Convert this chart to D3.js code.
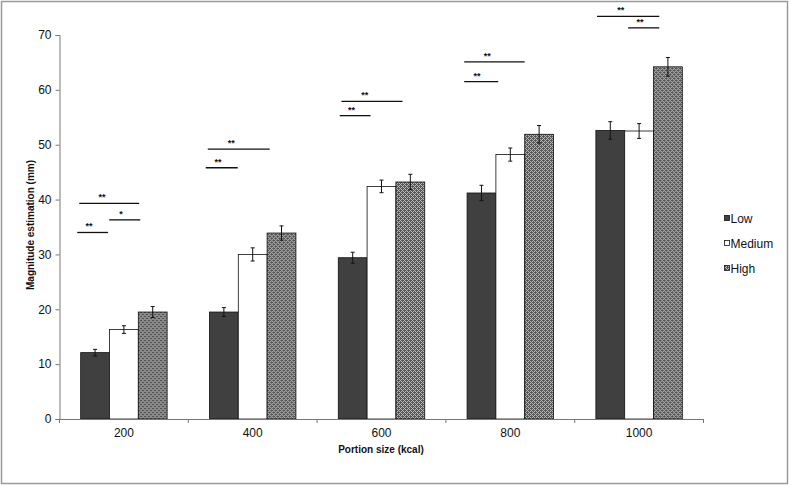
<!DOCTYPE html>
<html>
<head>
<meta charset="utf-8">
<script src="https://cdn.jsdelivr.net/npm/d3@7"></script>
<style>
  body { margin: 0; background: #fff; }
  svg { display: block; font-family: Arial, "Liberation Sans", sans-serif; }
</style>
</head>
<body>
<svg width="789" height="486"></svg>
<script>
// data
var categories = ["200", "400", "600", "800", "1000"];
var seriesNames = ["Low", "Medium", "High"];
var lowValues = [12.1, 19.5, 29.4, 41.2, 52.6];
var mediumValues = [16.3, 30.0, 42.4, 48.2, 52.5];
var highValues = [19.5, 33.9, 43.2, 51.9, 64.2];
var lowErr = [0.6, 0.8, 1.0, 1.4, 1.6];
var mediumErr = [0.7, 1.2, 1.15, 1.2, 1.35];
var highErr = [1.0, 1.3, 1.4, 1.6, 1.7];
var yTicks = [0, 10, 20, 30, 40, 50, 60, 70];
// significance lines: category, start / end (in bar widths from group start), level, label
var sigCat = ["200", "200", "200", "400", "400", "600", "600", "800", "800", "1000", "1000"];
var sigFrom = [-0.12, 0.99, -0.05, -0.13, -0.06, 0.05, 0.11, -0.1, -0.1, 0.04, 1.12];
var sigTo = [0.95, 2.07, 2.03, 0.98, 2.09, 1.12, 2.23, 1.08, 2.0, 2.2, 2.2];
var sigLevel = [34.0, 36.3, 39.3, 45.8, 49.2, 55.3, 57.9, 61.5, 65.1, 73.4, 71.3];
var sigLabel = ["**", "*", "**", "**", "**", "**", "**", "**", "**", "**", "**"];

var values = [lowValues, mediumValues, highValues];
var errors = [lowErr, mediumErr, highErr];

var svg = d3.select("svg");

// fine dither pattern for "High"
var defs = svg.append("defs");
var pat = defs.append("pattern")
  .attr("id", "hatch")
  .attr("patternUnits", "userSpaceOnUse")
  .attr("width", 4).attr("height", 4);
pat.append("rect").attr("width", 4).attr("height", 4).attr("fill", "#c4c4c4");
pat.append("path")
  .attr("d", "M0,0h1v1h-1z M1,1h1v1h-1z M2,2h1v1h-1z M3,3h1v1h-1z M2,0h1v1h-1z M3,1h1v1h-1z M0,2h1v1h-1z M1,3h1v1h-1z M1,0h1v1h-1z M3,2h1v1h-1z")
  .attr("fill", "#505050");

var fills = ["#404040", "#ffffff", "url(#hatch)"];

// outer frame
svg.append("rect")
  .attr("x", 1.5).attr("y", 1.5)
  .attr("width", 786).attr("height", 482)
  .attr("fill", "none").attr("stroke", "#9a9a9a").attr("stroke-width", 1.5);

var plotLeft = 59.5, plotRight = 703.5, plotTop = 35, plotBottom = 419;

var x0 = d3.scaleBand().domain(categories).range([plotLeft, plotRight]).padding(0);
var x1 = d3.scaleBand().domain(seriesNames).range([0, x0.bandwidth()])
  .paddingInner(0).paddingOuter(0.735);
var y = d3.scaleLinear().domain([0, 70]).range([plotBottom, plotTop]);

// bars
var groups = svg.selectAll("g.grp")
  .data(categories)
  .enter().append("g")
  .attr("class", "grp")
  .attr("transform", function(d) { return "translate(" + x0(d) + ",0)"; });

groups.each(function(cat, ci) {
  var g = d3.select(this);
  seriesNames.forEach(function(s, si) {
    var v = values[si][ci];
    g.append("rect")
      .attr("x", x1(s))
      .attr("y", y(v))
      .attr("width", x1.bandwidth())
      .attr("height", y(0) - y(v))
      .attr("fill", fills[si])
      .attr("stroke", "#111")
      .attr("stroke-width", 0.8);
  });
  // error bars
  seriesNames.forEach(function(s, si) {
    var v = values[si][ci], e = errors[si][ci];
    var cx = x1(s) + x1.bandwidth() / 2;
    g.append("path")
      .attr("d", "M" + cx + "," + y(v + e) + "V" + y(v - e) +
        "M" + (cx - 2) + "," + y(v + e) + "H" + (cx + 2) +
        "M" + (cx - 2) + "," + y(v - e) + "H" + (cx + 2))
      .attr("stroke", "#111").attr("stroke-width", 1).attr("fill", "none");
  });
});

// y axis
var yAxis = svg.append("g")
  .attr("transform", "translate(" + plotLeft + ",0)")
  .call(d3.axisLeft(y).tickValues(yTicks).tickSize(4).tickPadding(4));
yAxis.select(".domain").attr("stroke", "#777");
yAxis.selectAll(".tick line").attr("stroke", "#777");
yAxis.selectAll("text").attr("font-size", "12px").attr("fill", "#111")
  .attr("font-family", "Arial, 'Liberation Sans', sans-serif");

// x axis (labels centred, ticks on category boundaries)
var xAxis = svg.append("g")
  .attr("transform", "translate(0," + plotBottom + ")")
  .call(d3.axisBottom(x0).tickSize(0).tickPadding(9).tickSizeOuter(0));
xAxis.select(".domain").attr("stroke", "#777");
xAxis.selectAll("text").attr("font-size", "12px").attr("fill", "#111")
  .attr("font-family", "Arial, 'Liberation Sans', sans-serif");
var bounds = categories.map(function(c) { return x0(c); }).concat([plotRight]);
svg.selectAll("line.xtick")
  .data(bounds)
  .enter().append("line")
  .attr("class", "xtick")
  .attr("x1", function(d) { return d; }).attr("x2", function(d) { return d; })
  .attr("y1", plotBottom).attr("y2", plotBottom + 4)
  .attr("stroke", "#777");

// axis titles
svg.append("text")
  .attr("x", 381).attr("y", 453)
  .attr("text-anchor", "middle")
  .attr("font-size", "10px").attr("font-weight", "bold")
  .attr("fill", "#111")
  .text("Portion size (kcal)");

svg.append("text")
  .attr("transform", "translate(34,225) rotate(-90)")
  .attr("text-anchor", "middle")
  .attr("font-size", "10px").attr("font-weight", "bold")
  .attr("fill", "#111")
  .text("Magnitude estimation (mm)");

// significance lines
sigCat.forEach(function(c, i) {
  var g0 = x0(c) + x1(seriesNames[0]);
  var bw = x1.bandwidth();
  var xa = g0 + sigFrom[i] * bw, xb = g0 + sigTo[i] * bw;
  svg.append("line")
    .attr("x1", xa).attr("x2", xb)
    .attr("y1", y(sigLevel[i])).attr("y2", y(sigLevel[i]))
    .attr("stroke", "#111").attr("stroke-width", 1.3);
  svg.append("text")
    .attr("x", xa + (xb - xa) * 0.38)
    .attr("y", y(sigLevel[i]) - 3)
    .attr("text-anchor", "middle")
    .attr("font-size", "9px").attr("font-weight", "bold")
    .attr("fill", "#111")
    .text(sigLabel[i]);
});

// legend
var legend = svg.selectAll("g.leg")
  .data(seriesNames)
  .enter().append("g")
  .attr("class", "leg")
  .attr("transform", function(d, i) { return "translate(724," + (219 + i * 25) + ")"; });
legend.append("rect")
  .attr("x", 0.5).attr("y", -3.5)
  .attr("width", 5).attr("height", 5)
  .attr("fill", function(d, i) { return fills[i]; })
  .attr("stroke", "#111").attr("stroke-width", 0.8);
legend.append("text")
  .attr("x", 6.5).attr("y", 0)
  .attr("dy", "0.35em")
  .attr("font-size", "12px")
  .attr("fill", "#111")
  .text(function(d) { return d; });
</script>
</body>
</html>
